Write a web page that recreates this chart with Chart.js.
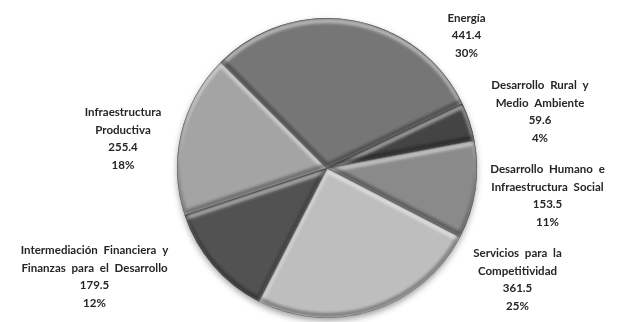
<!DOCTYPE html>
<html>
<head>
<meta charset="utf-8">
<script src="https://cdn.jsdelivr.net/npm/chart.js@4"></script>
<style>
  html, body { margin: 0; padding: 0; background: #fff; }
  #wrap { width: 618px; height: 322px; }
</style>
</head>
<body>
<div id="wrap"><canvas id="pieChart" width="618" height="322"></canvas></div>
<script>
// Sectors, split over the lines used in their labels
const categories = [
    ['Energía'],
    ['Desarrollo Rural y', 'Medio Ambiente'],
    ['Desarrollo Humano e', 'Infraestructura Social'],
    ['Servicios para la', 'Competitividad'],
    ['Intermediación Financiera y', 'Finanzas para el Desarrollo'],
    ['Infraestructura', 'Productiva']
];
const amounts = [441.4, 59.6, 153.5, 361.5, 179.5, 255.4];
const sliceColors = ['#767676', '#444444', '#8a8a8a', '#bebebe', '#525252', '#a4a4a4'];

// where each label sits, relative to the pie centre (in radius units)
const labelOffsets = [
    [0.93, -1.00],
    [1.42, -0.55],
    [1.47, 0.01],
    [1.27, 0.57],
    [-1.55, 0.55],
    [-1.36, -0.37]
];

const total = amounts.reduce((a, b) => a + b, 0);

function arcPath(ctx, a, dx, dy) {
    ctx.beginPath();
    ctx.moveTo(a.x + dx, a.y + dy);
    ctx.arc(a.x + dx, a.y + dy, a.outerRadius, a.startAngle, a.endAngle);
    ctx.closePath();
}

// soft shadow under the whole pie
const pieShadow = {
    id: 'pieShadow',
    beforeDatasetsDraw(chart) {
        const arcs = chart.getDatasetMeta(0).data;
        if (!arcs.length) return;
        const a = arcs[0];
        const ctx = chart.ctx;
        ctx.save();
        ctx.shadowColor = 'rgba(0,0,0,0.45)';
        ctx.shadowBlur = 7;
        ctx.shadowOffsetY = 3;
        ctx.fillStyle = '#888';
        ctx.beginPath();
        ctx.arc(a.x, a.y, a.outerRadius - 1, 0, Math.PI * 2);
        ctx.fill();
        ctx.restore();
    }
};

// light top edges and dark bottom edges on each slice
const sliceBevel = {
    id: 'sliceBevel',
    afterDatasetsDraw(chart) {
        const ctx = chart.ctx;
        chart.getDatasetMeta(0).data.forEach(a => {
            ctx.save();
            arcPath(ctx, a, 0, 0);
            ctx.clip();
            ctx.filter = 'blur(1.5px)';
            ctx.lineJoin = 'round';
            ctx.lineWidth = 4;
            ctx.strokeStyle = 'rgba(255,255,255,0.5)';
            arcPath(ctx, a, 0, 3);
            ctx.stroke();
            ctx.strokeStyle = 'rgba(0,0,0,0.35)';
            arcPath(ctx, a, 0, -3);
            ctx.stroke();
            ctx.filter = 'none';
            ctx.lineWidth = 1.2;
            ctx.strokeStyle = 'rgba(40,40,40,0.5)';
            arcPath(ctx, a, 0, 0);
            ctx.stroke();
            ctx.restore();
        });
    }
};

// category, amount and share next to each slice
const sliceLabels = {
    id: 'sliceLabels',
    afterDraw(chart) {
        const ctx = chart.ctx;
        const lineH = 17.6;
        ctx.save();
        ctx.font = 'bold 11.5px Lato, "Open Sans", sans-serif';
        ctx.fillStyle = '#262626';
        ctx.textAlign = 'center';
        ctx.textBaseline = 'middle';
        if ('wordSpacing' in ctx) ctx.wordSpacing = '3px';
        chart.getDatasetMeta(0).data.forEach((a, i) => {
            const r = a.outerRadius;
            const cx = a.x + labelOffsets[i][0] * r;
            let y = a.y + labelOffsets[i][1] * r;
            const lines = categories[i].concat([
                amounts[i].toFixed(1),
                Math.round(amounts[i] / total * 100) + '%'
            ]);
            lines.forEach(t => {
                ctx.fillText(t, cx, y);
                y += lineH;
            });
        });
        ctx.restore();
    }
};

const ctx = document.getElementById('pieChart').getContext('2d');
new Chart(ctx, {
    type: 'pie',
    data: {
        labels: categories.map(c => c.join(' ')),
        datasets: [{
            data: amounts,
            backgroundColor: sliceColors,
            borderWidth: 0
        }]
    },
    options: {
        responsive: false,
        animation: false,
        rotation: -45,
        layout: { padding: { left: 177, right: 141, top: 18, bottom: 4 } },
        plugins: {
            legend: { display: false },
            tooltip: { enabled: false }
        }
    },
    plugins: [pieShadow, sliceBevel, sliceLabels]
});
</script>
</body>
</html>
